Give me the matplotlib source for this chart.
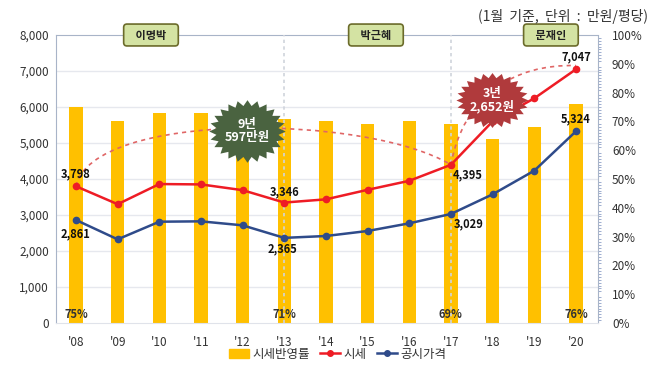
import numpy as np
import matplotlib.pyplot as plt
from matplotlib.path import Path
from matplotlib.patches import PathPatch, Patch
from matplotlib.lines import Line2D
from matplotlib.ticker import FuncFormatter, MultipleLocator

plt.rcParams['font.family'] = ['Noto Sans CJK KR', 'DejaVu Sans']

# data
years = ["'08", "'09", "'10", "'11", "'12", "'13", "'14", "'15", "'16", "'17", "'18", "'19", "'20"]
ratio = [75, 70, 73, 73, 71, 71, 70, 69, 70, 69, 64, 68, 76]          # 시세반영률 (%)
market = [3798, 3300, 3860, 3850, 3690, 3346, 3435, 3700, 3950, 4395, 5600, 6240, 7047]   # 시세
official = [2861, 2324, 2814, 2824, 2713, 2365, 2417, 2556, 2769, 3029, 3574, 4231, 5324]  # 공시가격
ratio_labels = {0: "75%", 5: "71%", 9: "69%", 12: "76%"}
presidents = [("이명박", 1.8), ("박근혜", 7.2), ("문재인", 11.4)]

BAR = "#FFC000"
RED = "#EE1C25"
NAVY = "#2F4B8A"
TXT = "#333333"

fig = plt.figure(figsize=(6.58, 3.7), dpi=100)
ax = fig.add_axes([0.0851, 0.127, 0.8237, 0.7784])
ax2 = ax.twinx()
ax.set_zorder(ax2.get_zorder() + 1)
ax.patch.set_visible(False)

x = np.arange(len(years))

# bars on right axis
ax2.bar(x, ratio, width=0.32, color=BAR, zorder=2)
ax2.set_ylim(0, 100)
ax2.yaxis.set_major_locator(MultipleLocator(10))
ax2.yaxis.set_minor_locator(MultipleLocator(1))
ax2.yaxis.set_major_formatter(FuncFormatter(lambda v, p: f"{int(v)}%"))
ax2.tick_params(axis='y', which='major', length=0, labelsize=8.5, labelcolor=TXT, pad=10)
ax2.tick_params(axis='y', which='minor', length=2, color="#8EA0C8", direction='out')

# lines on left axis
ax.plot(x, market, color=RED, lw=1.8, marker='o', ms=4.5, zorder=5)
ax.plot(x, official, color=NAVY, lw=1.8, marker='o', ms=4.5, zorder=5)
ax.set_ylim(0, 8000)
ax.set_xlim(-0.48, 12.53)
ax.set_xticks(x)
ax.set_xticklabels(years)
ax.yaxis.set_major_locator(MultipleLocator(1000))
ax.yaxis.set_major_formatter(FuncFormatter(lambda v, p: f"{int(v):,}"))
ax.tick_params(axis='y', length=0, labelsize=8.5, labelcolor=TXT, pad=5)
ax.tick_params(axis='x', length=0, labelsize=8.5, labelcolor=TXT, pad=9)

# grid on the bar axis so it stays underneath
for v in range(1000, 8000, 1000):
    ax2.axhline(v / 80, color="#E6E8EE", lw=1, zorder=0)

for a in (ax, ax2):
    for s in a.spines.values():
        s.set_visible(False)
for side in ('left', 'top'):
    ax.spines[side].set_visible(True)
    ax.spines[side].set_color("#A8B4C8")
ax.spines['bottom'].set_visible(True)
ax.spines['bottom'].set_color("#E0E3EA")
ax2.spines['right'].set_visible(True)
ax2.spines['right'].set_color("#A8B4C8")
ax2.spines['right'].set_linestyle((0, (1, 1)))

# vertical dotted separators
for xi in (5, 9):
    ax.axvline(xi, color="#D0D4DC", lw=1.2, ls=(0, (2, 2)), zorder=3)

# dotted arcs
def arc(p0, c1, c2, p1):
    path = Path([p0, c1, c2, p1], [Path.MOVETO, Path.CURVE4, Path.CURVE4, Path.CURVE4])
    ax.add_patch(PathPatch(path, fill=False, ec="#E06666", lw=1.2, ls=(0, (2.5, 2.5)), zorder=4))

arc((0, market[0]), (0.4, 5900), (7, 5800), (9, market[9]))
arc((9, market[9]), (9.3, 6300), (10.5, 7200), (12, 7150))

# value labels
def lab(i, v, dx, dy, ha):
    ax.annotate(f"{v:,}", (i, v), textcoords="offset points", xytext=(dx, dy),
                ha=ha, va='center', fontsize=8, color="#111111", fontweight='bold', zorder=7)

lab(0, market[0], 0, 9, 'center')
lab(5, market[5], 0, 8, 'center')
lab(9, market[9], 1, -7, 'left')
lab(12, market[12], 0, 9, 'center')
lab(0, official[0], 0, -10, 'center')
lab(5, official[5], -1, -8, 'center')
lab(9, official[9], 2, -7, 'left')
lab(12, official[12], 0, 9, 'center')

for i, t in ratio_labels.items():
    ax2.text(i, 3, t, ha='center', va='center', fontsize=8, fontweight='bold', color=TXT, zorder=6)

# starbursts
def star(n=24, inner=0.82, squash=0.8):
    ang = np.linspace(0, 2 * np.pi, 2 * n, endpoint=False) + np.pi / 2
    r = np.where(np.arange(2 * n) % 2 == 0, 1.0, inner)
    verts = np.column_stack([r * np.cos(ang), squash * r * np.sin(ang)])
    return Path(np.vstack([verts, verts[:1]]), closed=True)

ax.scatter([4.1], [5330], s=55 ** 2, marker=star(squash=0.82), color="#4A6340", zorder=8, linewidths=0)
ax.text(4.1, 5330, "9년\n597만원", ha='center', va='center', color='white', fontsize=9,
        fontweight='bold', linespacing=1.05, zorder=9)
ax.scatter([9.98], [6190], s=52 ** 2, marker=star(squash=0.76), color="#B03A3C", zorder=8, linewidths=0)
ax.text(9.98, 6190, "3년\n2,652원", ha='center', va='center', color='white', fontsize=9,
        fontweight='bold', linespacing=1.05, zorder=9)

# president boxes
for name, xc in presidents:
    ax.text(xc, 8000, "   " + name + "   ", ha='center', va='center', fontsize=8, fontweight='bold',
            color="#222222", zorder=10, clip_on=False,
            bbox=dict(boxstyle="round,pad=0.4,rounding_size=0.3", fc="#D4E3A3", ec="#6B6B2A", lw=1.2))

# legend
handles = [Patch(color=BAR),
           Line2D([], [], color=RED, lw=1.8, marker='o', ms=4),
           Line2D([], [], color=NAVY, lw=1.8, marker='o', ms=4)]
fig.legend(handles, ["시세반영률", "시세", "공시가격"], loc='lower center', bbox_to_anchor=(0.513, -0.005),
           ncol=3, frameon=False, fontsize=9, handlelength=1.6, handletextpad=0.3, columnspacing=0.8,
           labelcolor=TXT)

fig.text(0.985, 0.975, "(1월  기준,  단위  :  만원/평당)", ha='right', va='top', fontsize=10, color=TXT)

fig.savefig("out.png", dpi=100, facecolor='white')
